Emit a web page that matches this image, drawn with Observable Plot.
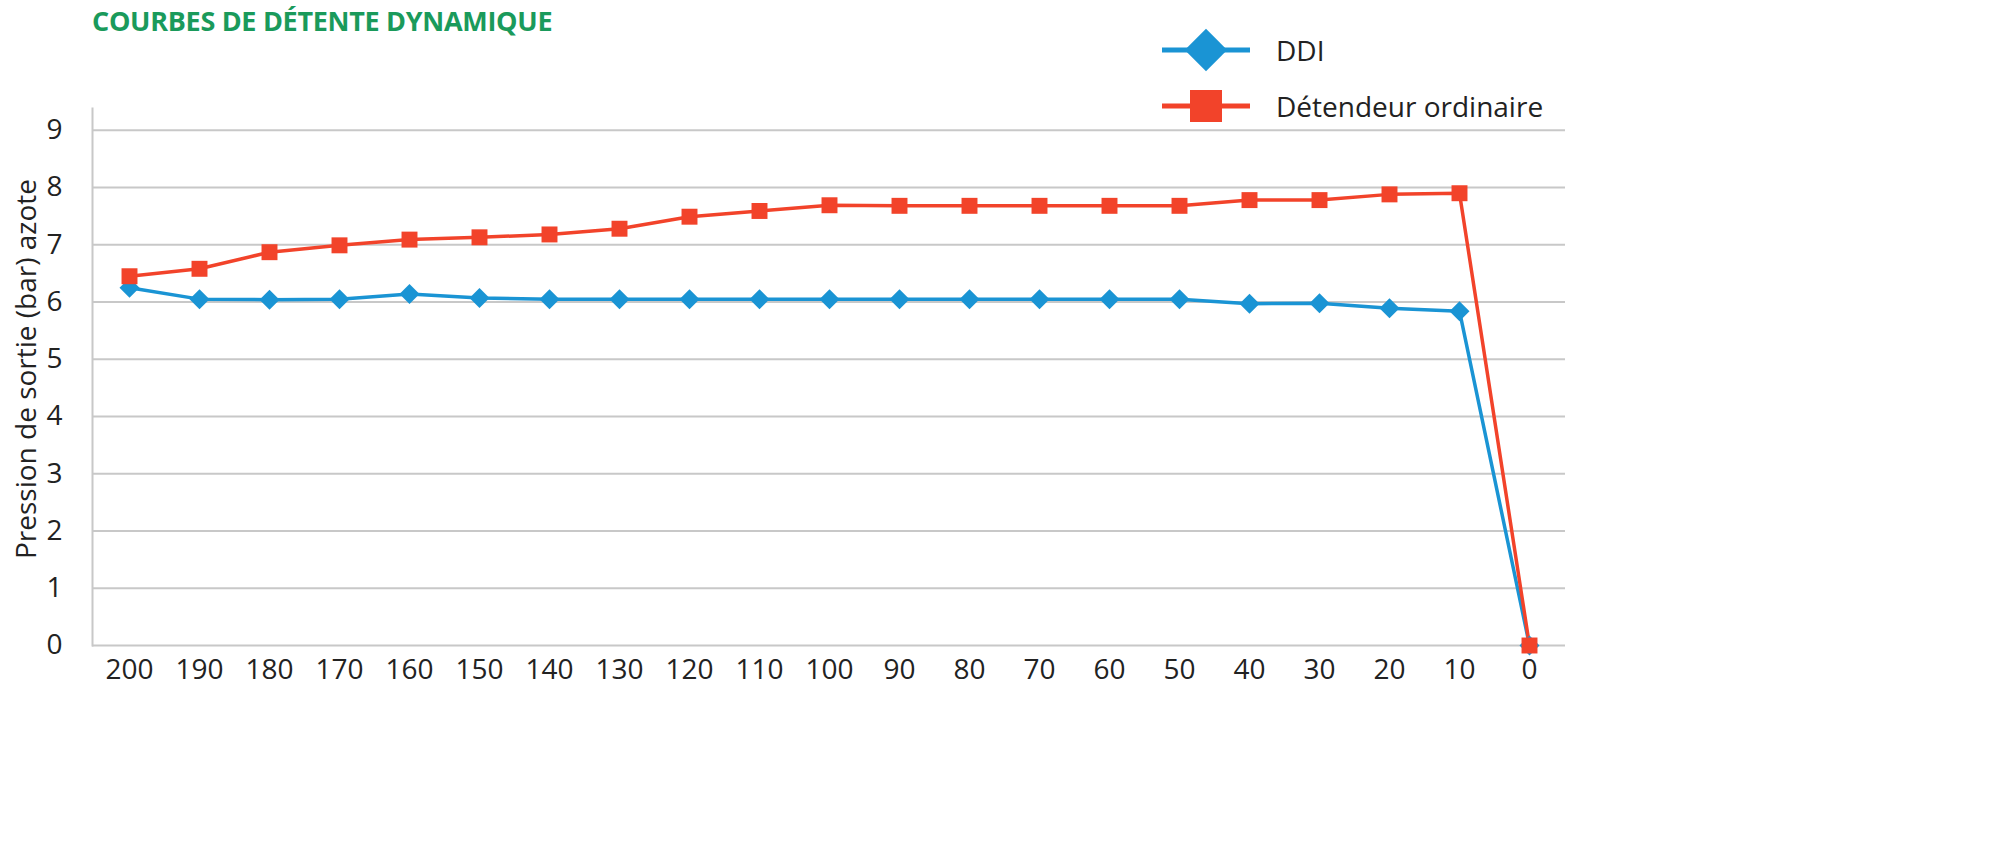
<!DOCTYPE html>
<html><head><meta charset="utf-8">
<script src="https://cdn.jsdelivr.net/npm/d3@7"></script>
<script src="https://cdn.jsdelivr.net/npm/@observablehq/plot@0.6"></script>
<style>
body{margin:0;background:#fff;font-family:"Open Sans",sans-serif;}
#wrap{position:relative;width:1999px;height:867px;}
#title{position:absolute;left:92px;top:2px;color:#1a9a5b;font-weight:700;font-size:27px;letter-spacing:-0.3px;}
#legend{position:absolute;left:1160px;top:22px;font-size:28px;color:#222;}
.li{display:flex;align-items:center;height:56px;}
.li svg{margin-right:24px;}
#ylab{position:absolute;left:-185px;top:350px;width:420px;text-align:center;transform:rotate(-90deg);font-size:28px;color:#222;white-space:nowrap;}
</style></head><body>
<div id="wrap">
<div id="title">COURBES DE DÉTENTE DYNAMIQUE</div>
<div id="legend">
 <div class="li"><svg width="92" height="44"><line x1="2" y1="22" x2="90" y2="22" stroke="#1a94d4" stroke-width="5"/><rect x="31" y="7" width="30" height="30" fill="#1a94d4" transform="rotate(45 46 22)" /></svg>DDI</div>
 <div class="li"><svg width="92" height="44"><line x1="2" y1="22" x2="90" y2="22" stroke="#f2432a" stroke-width="5"/><rect x="30" y="6" width="32" height="32" fill="#f2432a"/></svg>Détendeur ordinaire</div>
</div>
<div id="ylab">Pression de sortie (bar) azote</div>
<div id="chart"></div>
</div>
<script>
const pressions = [200,190,180,170,160,150,140,130,120,110,100,90,80,70,60,50,40,30,20,10,0];
const ddi = [6.25,6.05,6.04,6.05,6.14,6.07,6.05,6.05,6.05,6.05,6.05,6.05,6.05,6.05,6.05,6.05,5.97,5.98,5.89,5.84,0];
const ordinaire = [6.45,6.58,6.87,6.99,7.09,7.13,7.18,7.28,7.49,7.59,7.69,7.68,7.68,7.68,7.68,7.68,7.78,7.78,7.88,7.9,0];
const yTicks = [0,1,2,3,4,5,6,7,8,9];
const dDDI = pressions.map((p,i)=>({p:String(p),v:ddi[i]}));
const dOrd = pressions.map((p,i)=>({p:String(p),v:ordinaire[i]}));
const chart = Plot.plot({
  width:1999, height:867,
  marginLeft:92, marginRight:434, marginTop:108, marginBottom:222,
  style:{fontFamily:"Open Sans, sans-serif", fontSize:"28px", color:"#222", background:"transparent"},
  x:{type:"point", domain:pressions.map(String), padding:0.46, label:null},
  y:{domain:[0,9.38], label:null},
  marks:[
    Plot.gridY(yTicks,{stroke:"#c8c8c8", strokeOpacity:1, strokeWidth:2}),
    Plot.frame({anchor:"left", stroke:"#c8c8c8", strokeWidth:2}),
    Plot.axisY(yTicks,{tickSize:0, tickPadding:30, label:null, fontSize:28, tickFormat:d=>String(d)}),
    Plot.axisX({tickSize:0, tickPadding:14, label:null, fontSize:28}),
    Plot.line(dDDI,{x:"p",y:"v",stroke:"#1a94d4",strokeWidth:3.5}),
    Plot.line(dOrd,{x:"p",y:"v",stroke:"#f2432a",strokeWidth:3.5}),
    Plot.dot(dDDI,{x:"p",y:"v",symbol:"diamond2",fill:"#1a94d4",r:9}),
    Plot.dot(dOrd,{x:"p",y:"v",symbol:"square",fill:"#f2432a",r:9})
  ]
});
document.getElementById("chart").appendChild(chart);
</script>
</body></html>
